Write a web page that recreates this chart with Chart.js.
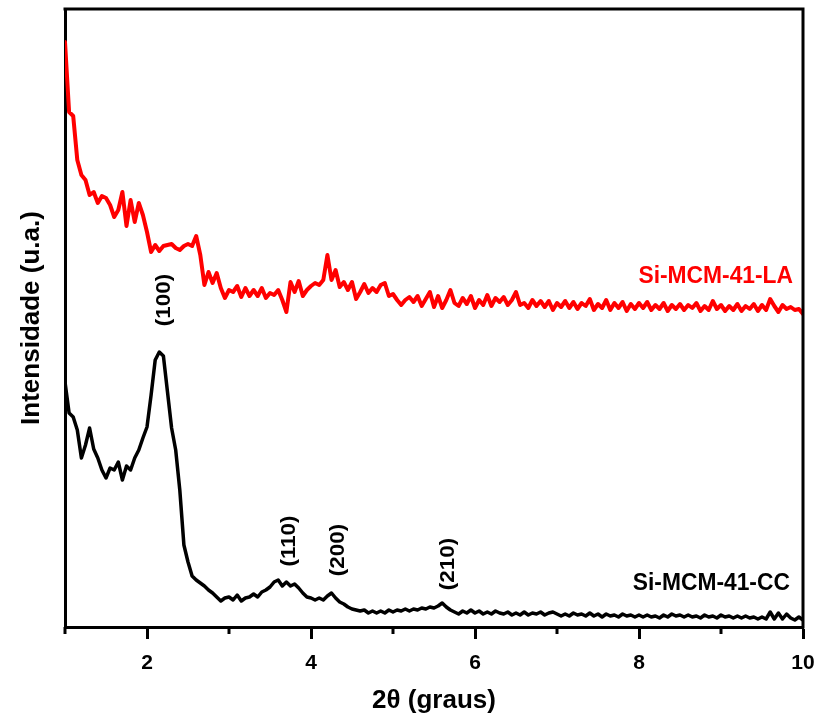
<!DOCTYPE html>
<html>
<head>
<meta charset="utf-8">
<script src="https://cdn.jsdelivr.net/npm/chart.js@4"></script>
<style>
html,body{margin:0;padding:0;background:#fff;}
#wrap{width:819px;height:722px;position:relative;}
</style>
</head>
<body>
<div id="wrap"><canvas id="c" width="819" height="722"></canvas></div>
<script>
const twoTheta = [1.00,1.05,1.10,1.15,1.20,1.25,1.30,1.35,1.40,1.45,1.50,1.55,1.60,1.65,1.70,1.75,1.80,1.85,1.90,1.95,
2.00,2.05,2.10,2.15,2.20,2.25,2.30,2.35,2.40,2.45,2.50,2.55,2.60,2.65,2.70,2.75,2.80,2.85,2.90,2.95,
3.00,3.05,3.10,3.15,3.20,3.25,3.30,3.35,3.40,3.45,3.50,3.55,3.60,3.65,3.70,3.75,3.80,3.85,3.90,3.95,
4.00,4.05,4.10,4.15,4.20,4.25,4.30,4.35,4.40,4.45,4.50,4.55,4.60,4.65,4.70,4.75,4.80,4.85,4.90,4.95,
5.00,5.05,5.10,5.15,5.20,5.25,5.30,5.35,5.40,5.45,5.50,5.55,5.60,5.65,5.70,5.75,5.80,5.85,5.90,5.95,
6.00,6.05,6.10,6.15,6.20,6.25,6.30,6.35,6.40,6.45,6.50,6.55,6.60,6.65,6.70,6.75,6.80,6.85,6.90,6.95,
7.00,7.05,7.10,7.15,7.20,7.25,7.30,7.35,7.40,7.45,7.50,7.55,7.60,7.65,7.70,7.75,7.80,7.85,7.90,7.95,
8.00,8.05,8.10,8.15,8.20,8.25,8.30,8.35,8.40,8.45,8.50,8.55,8.60,8.65,8.70,8.75,8.80,8.85,8.90,8.95,
9.00,9.05,9.10,9.15,9.20,9.25,9.30,9.35,9.40,9.45,9.50,9.55,9.60,9.65,9.70,9.75,9.80,9.85,9.90,9.95,
10.00];

const intensityLA = [585,515,511,467,452,447,432,435,424,431,429,422,410,417,435,401,427,405,424,412,
395,375,382,376,381,382,383,379,377,381,383,381,391,372,342,355,344,354,339,329,
337,335,341,330,339,331,337,331,339,329,334,332,337,327,315,345,335,346,331,337,
341,344,342,347,372,347,357,340,345,337,345,328,335,343,334,339,335,342,344,331,
333,327,322,327,330,325,331,321,328,335,320,331,319,327,337,324,321,329,323,331,
319,327,322,332,321,329,325,330,322,327,335,322,324,319,327,321,326,320,326,317,
324,320,326,319,325,318,324,321,328,317,323,319,327,317,324,319,325,316,323,318,
324,319,325,317,322,318,324,316,322,318,323,317,322,319,324,316,321,317,326,318,
322,316,321,317,323,316,321,318,323,316,322,317,328,321,315,322,318,320,317,318,
313];

const intensityCC = [245,214,210,197,169,182,199,178,169,157,149,159,157,165,147,161,157,169,177,189,
200,232,267,275,271,235,199,177,137,82,65,51,47,44,41,37,34,30,26,29,
30,27,32,26,29,30,33,30,35,37,40,45,47,41,45,41,43,39,34,30,
29,27,29,27,31,34,29,25,23,20,18,17,16,17,14,16,14,16,14,17,
15,17,16,18,16,18,17,19,18,20,19,21,24,20,17,15,13,16,14,17,
14,16,13,15,13,16,14,13,15,12,14,12,15,12,14,13,15,12,14,15,
13,11,13,11,14,12,13,11,14,11,13,10,13,11,12,10,13,11,12,10,
12,10,12,10,11,9,12,10,13,11,12,10,12,10,11,9,12,10,11,9,
12,10,11,9,11,9,11,9,10,8,10,8,15,8,14,8,13,9,7,10,
7];

const majorTicks = [2,4,6,8,10];
const minorTicks = [1,3,5,7,9];

const seriesNames = ['Si-MCM-41-LA','Si-MCM-41-CC'];
const seriesColors = ['#ff0000','#000000'];

// peak labels: [text, 2theta, intensity at label centre]
const peakLabels = [['(100)',2.195,327],['(110)',3.72,86],['(200)',4.317,77],['(210)',5.66,63]];
// series labels: [text, right-edge 2theta, intensity at centre, color index]
const seriesLabels = [['Si-MCM-41-LA',9.878,352,0],['Si-MCM-41-CC',9.84,45,1]];

const FONT = '"Liberation Sans", Arial, sans-serif';

const framePlugin = {
  id: 'frame',
  afterDraw(chart) {
    const ctx = chart.ctx, a = chart.chartArea, xs = chart.scales.x, ys = chart.scales.y;
    ctx.save();
    ctx.strokeStyle = '#000';
    ctx.lineWidth = 3;
    ctx.beginPath();
    ctx.moveTo(a.left - 1.5, a.top);
    ctx.lineTo(a.right, a.top);
    ctx.lineTo(a.right, a.bottom + 1.5);
    ctx.stroke();
    // minor ticks
    minorTicks.forEach(v => {
      const px = xs.getPixelForValue(v);
      ctx.beginPath();
      ctx.moveTo(px, a.bottom);
      ctx.lineTo(px, a.bottom + 7);
      ctx.stroke();
    });
    // peak labels
    ctx.fillStyle = '#000';
    ctx.font = 'bold 20px ' + FONT;
    ctx.textAlign = 'center';
    ctx.textBaseline = 'middle';
    peakLabels.forEach(p => {
      const px = xs.getPixelForValue(p[1]);
      const py = ys.getPixelForValue(p[2]);
      ctx.save();
      ctx.translate(px, py);
      ctx.rotate(-Math.PI / 2);
      ctx.scale(1.12, 1);
      ctx.fillText(p[0], 0, 1);
      ctx.restore();
    });
    // series labels
    ctx.font = 'bold 24px ' + FONT;
    ctx.textAlign = 'right';
    seriesLabels.forEach(s => {
      const px = xs.getPixelForValue(s[1]);
      const py = ys.getPixelForValue(s[2]);
      ctx.save();
      ctx.fillStyle = seriesColors[s[3]];
      ctx.translate(px, py);
      ctx.scale(0.95, 1);
      ctx.fillText(s[0], 0, 1);
      ctx.restore();
    });
    ctx.restore();
  }
};

new Chart(document.getElementById('c'), {
  type: 'line',
  data: {
    labels: twoTheta,
    datasets: [
      {label: seriesNames[0], data: intensityLA, borderColor: seriesColors[0], borderWidth: 4, pointRadius: 0, tension: 0, fill: false, borderJoinStyle: 'round', borderCapStyle: 'round'},
      {label: seriesNames[1], data: intensityCC, borderColor: seriesColors[1], borderWidth: 3.5, pointRadius: 0, tension: 0, fill: false, borderJoinStyle: 'round', borderCapStyle: 'round'}
    ]
  },
  options: {
    responsive: false,
    animation: false,
    events: [],
    layout: {padding: {top: 9, right: 16, left: 0, bottom: 0}},
    plugins: {legend: {display: false}, tooltip: {enabled: false}},
    scales: {
      x: {
        type: 'linear',
        min: 1, max: 10,
        afterBuildTicks: (axis) => { axis.ticks = majorTicks.map(v => ({value: v})); },
        afterFit: (axis) => { axis.height = 95; axis.paddingRight = 0; axis.paddingLeft = 0; },
        grid: {display: true, drawOnChartArea: false, drawTicks: true, tickLength: 12, tickWidth: 3, tickColor: '#000'},
        border: {display: true, width: 3, color: '#000'},
        ticks: {color: '#000', font: {family: FONT, size: 21, weight: 'bold'}, padding: 12, maxRotation: 0},
        title: {display: true, text: '2θ (graus)', color: '#000', font: {family: FONT, size: 26, weight: 'bold'}, padding: {top: 0, bottom: 6}}
      },
      y: {
        min: 0, max: 618,
        afterFit: (axis) => { axis.width = 65; },
        grid: {display: false},
        border: {display: true, width: 3, color: '#000'},
        ticks: {display: false},
        title: {display: true, text: 'Intensidade (u.a.)', color: '#000', font: {family: FONT, size: 26, weight: 'bold'}, padding: {top: 16, bottom: 0}}
      }
    }
  },
  plugins: [framePlugin]
});
</script>
</body>
</html>
